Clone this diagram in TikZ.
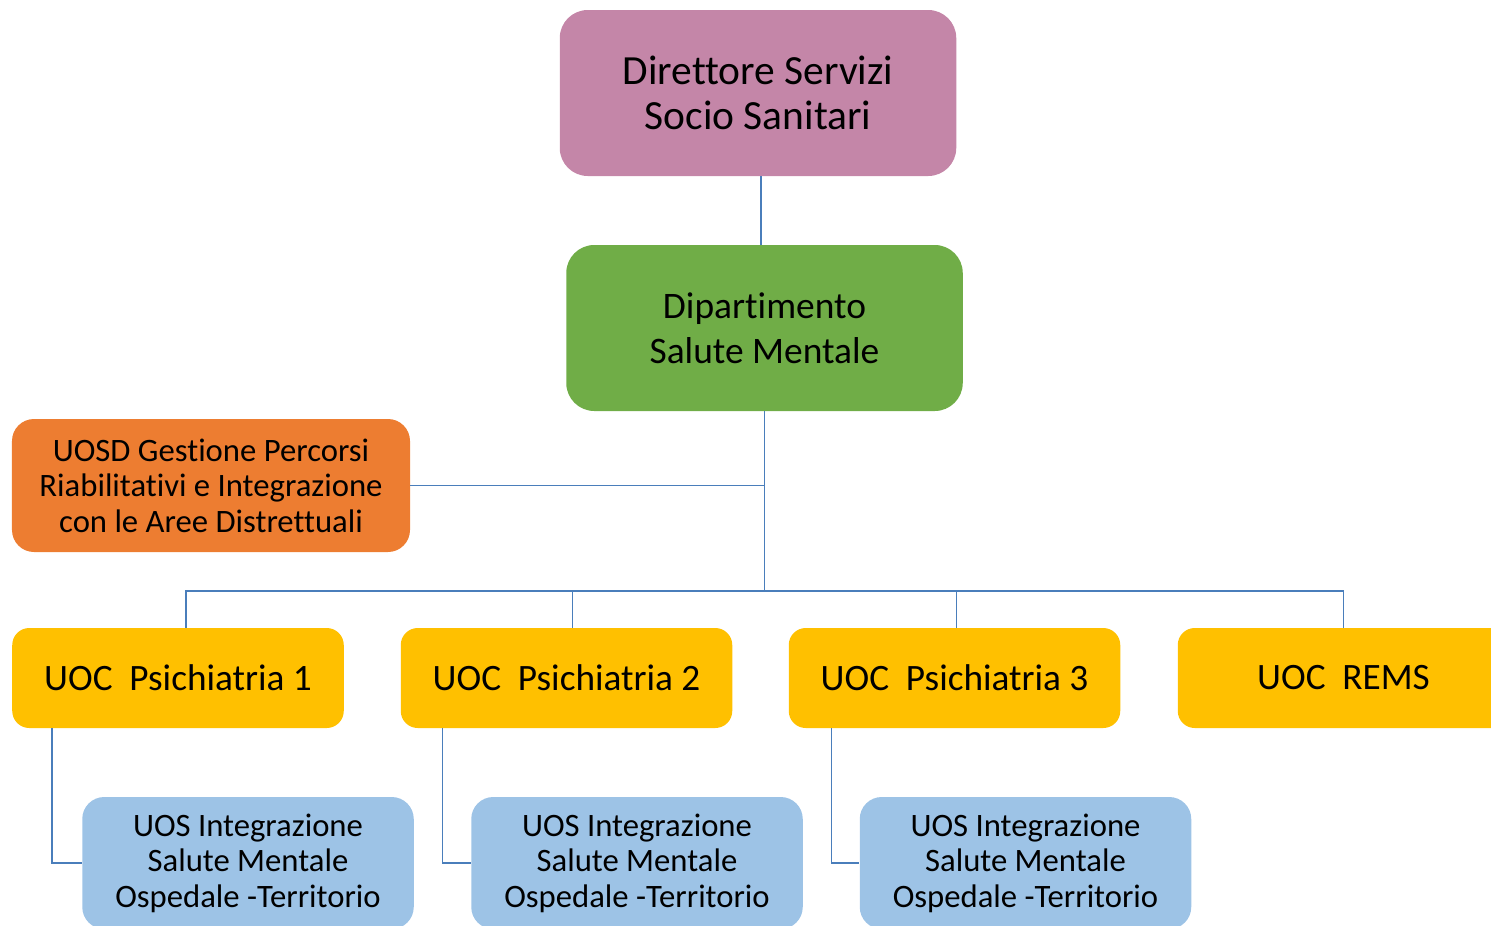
\documentclass[tikz,border=0pt]{standalone}
\usepackage{fontspec}
\setmainfont{Carlito}[Ligatures={NoCommon}]
\usetikzlibrary{positioning}
\definecolor{direzione}{HTML}{C486A8}
\definecolor{dipartimento}{HTML}{70AD47}
\definecolor{uosd}{HTML}{ED7D31}
\definecolor{uoc}{HTML}{FFC000}
\definecolor{uos}{HTML}{9DC3E6}
\definecolor{linea}{HTML}{4A7EBB}
\tikzset{
  /tikz/.cd,
  unita/.style={align=center,text=black,inner sep=0pt},
  collega/.style={draw=linea,line width=0.95pt}
}

\begin{document}
\begin{tikzpicture}[
    grande/.style={unita,rounded corners=0.56cm,minimum width=7.93cm,minimum height=3.32cm},
    uoc/.style={unita,fill=uoc,rounded corners=0.34cm,minimum width=6.63cm,minimum height=2cm,font=\fontsize{21.2}{25}\selectfont},
    uos/.style={unita,fill=uos,rounded corners=0.44cm,minimum width=6.63cm,minimum height=2.64cm,font=\fontsize{18.6}{20.2}\selectfont}]
  \useasboundingbox (0,0) rectangle (29.82,-18.5);

  \node[grande,fill=direzione,font=\fontsize{23.6}{26}\selectfont] (dir) at (15.16,-1.86) {Direttore Servizi\\Socio Sanitari};
  \node[grande,fill=dipartimento,font=\fontsize{21.3}{25.6}\selectfont] (dip) at (15.29,-6.56) {Dipartimento\\Salute Mentale};
  \node[unita,fill=uosd,rounded corners=0.44cm,minimum width=7.96cm,minimum height=2.66cm,
        font=\fontsize{18.6}{20.2}\selectfont] (gpr) at (4.22,-9.71)
        {UOSD Gestione Percorsi\\Riabilitativi e Integrazione\\con le Aree Distrettuali};

  \node[uoc] (uoc1) at (3.56,-13.56) {UOC\ \ Psichiatria 1};
  \node[uoc] (uoc2) at (11.33,-13.56) {UOC\ \ Psichiatria 2};
  \node[uoc] (uoc3) at (19.09,-13.56) {UOC\ \ Psichiatria 3};
  \node[uoc] (rems) at (26.87,-13.56) {UOC\ \ REMS};

  \node[uos] (uos1) at (4.96,-17.26) {UOS Integrazione\\Salute Mentale\\Ospedale -Territorio};
  \node[uos] (uos2) at (12.74,-17.26) {UOS Integrazione\\Salute Mentale\\Ospedale -Territorio};
  \node[uos] (uos3) at (20.51,-17.26) {UOS Integrazione\\Salute Mentale\\Ospedale -Territorio};

  \coordinate (bus) at (15.29,-11.82);

  \draw[collega] ([xshift=0.06cm]dir.south) -- ([xshift=0.06cm]dir.south |- dip.north);
  \draw[collega] (dip.south) -- (bus);
  \draw[collega] (gpr.east) -- (gpr.east -| dip.south);
  \draw[collega] ([xshift=0.16cm]uoc1.north) |- (bus) -| (rems.north);
  \draw[collega] ([xshift=0.12cm]uoc2.north) -- ([xshift=0.12cm]uoc2.north |- bus);
  \draw[collega] ([xshift=0.04cm]uoc3.north) -- ([xshift=0.04cm]uoc3.north |- bus);

  \draw[collega] ([xshift=0.8cm]uoc1.south west) |- (uos1.west);
  \draw[collega] ([xshift=0.84cm]uoc2.south west) |- (uos2.west);
  \draw[collega] ([xshift=0.86cm]uoc3.south west) |- (uos3.west);
\end{tikzpicture}
\end{document}
